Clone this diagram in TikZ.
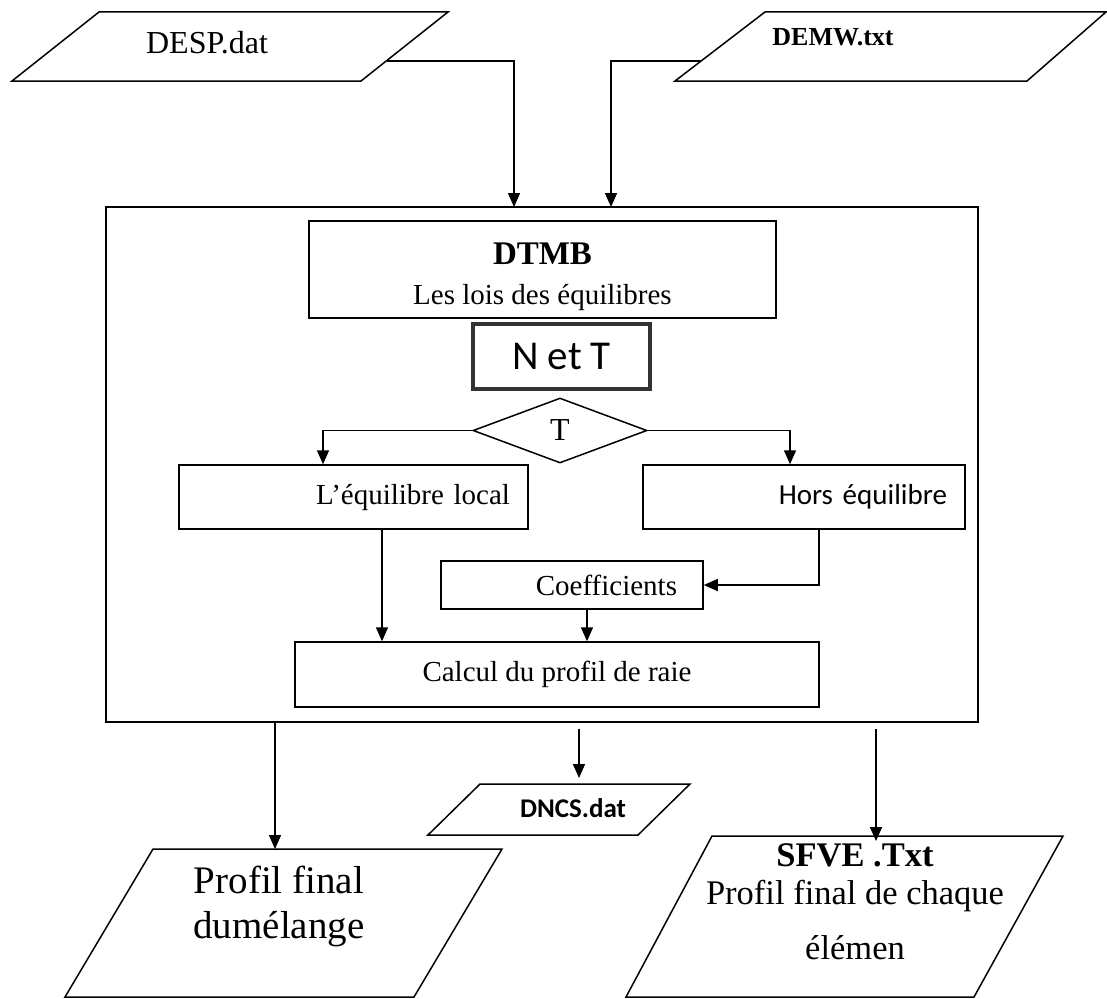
\documentclass[tikz,border=0pt]{standalone}
\usepackage{fontspec}
\setmainfont{Liberation Serif}
\newfontfamily\calibri{Carlito}
\usetikzlibrary{arrows.meta,positioning,shapes.geometric,calc}

\begin{document}
\begin{tikzpicture}[
    x=1pt, y=-1pt,
    >={Triangle[length=14pt,width=12pt]},
    line width=1.5pt,
    stage/.style={draw,inner sep=0pt,font=\fontsize{29}{34}\selectfont},
    rstage/.style={stage,align=right},
    choice/.style={draw,diamond,aspect=2.7,inner sep=0pt,minimum width=174pt,
                   minimum height=65pt,font=\fontsize{32}{36}\selectfont},
    filetext/.style={inner sep=0pt,align=center},
    flow/.style={->},
  ]
  \useasboundingbox (0,0) rectangle (1107,998);

  % --- input files ---
  \draw (99,12) -- (448,12) -- (361,81) -- (12,81) -- cycle;
  \node[filetext,font=\fontsize{32}{36}\selectfont] (desp) at (207,43) {DESP.dat};
  \draw (765,12) -- (1106,12) -- (1027,81) -- (675,81) -- cycle;
  \node[filetext,font=\bfseries\fontsize{26}{30}\selectfont] (demw) at (833,37) {DEMW.txt};
  \coordinate (despout) at (387,61);
  \coordinate (demwout) at (701,61);
  \coordinate (despin) at (514,207);
  \coordinate (demwin) at (611,207);

  % --- main block ---
  \node[draw,minimum width=872pt,minimum height=515pt,inner sep=0pt] (main) at (542,464.5) {};
  \node[stage,minimum width=467pt,minimum height=97pt,align=center] (dtmb) at (542.5,269.5)
    {\rule{0pt}{36pt}{\bfseries\fontsize{33}{41}\selectfont DTMB}\\[6pt]Les lois des équilibres};
  \node[draw=black!80,line width=4pt,minimum width=177pt,minimum height=65pt,inner sep=0pt,
        font=\calibri\fontsize{41}{46}\selectfont] (net) at (561.5,356.5) {N et T};
  \node[choice] (tdiam) at (560,430.5) {T};
  \node[rstage,text width=313pt,inner xsep=18pt,minimum height=64pt] (lte) at (353.5,497)
    {L’équilibre local};
  \node[rstage,text width=286pt,inner xsep=18pt,minimum height=64pt,
        font=\calibri\fontsize{29}{34}\selectfont] (nlte) at (804,497) {Hors équilibre};
  \node[rstage,text width=210pt,inner xsep=26pt,minimum height=48pt] (coef) at (572,585)
    {Coefficients};
  \node[stage,minimum width=524pt,minimum height=65pt] (calc) at (557,674.5)
    {Calcul du profil de raie};

  % --- output files ---
  \draw (480,784) -- (690,784) -- (638,835) -- (428,835) -- cycle;
  \node[filetext,font=\calibri\bfseries\fontsize{27}{30}\selectfont] (dncs) at (573,808) {DNCS.dat};
  \draw (153,849) -- (502,849) -- (414,997) -- (65,997) -- cycle;
  \node[filetext,font=\fontsize{39}{45}\selectfont] (melange) at (279,906)
    {Profil final\\dumélange};
  \draw (712,836) -- (1063,836) -- (974,997) -- (626,997) -- cycle;
  \node[filetext,font=\fontsize{34.5}{38}\selectfont] (sfve) at (855,902)
    {\textbf{SFVE .Txt}\\Profil final de chaque\\[17pt]élémen};
  \coordinate (melin) at (275,849);
  \coordinate (dncsin) at (579,778);
  \coordinate (sfvein) at (876,841);

  % --- connectors ---
  \draw[flow] (despout) -| (despin);
  \draw[flow] (demwout) -| (demwin);
  \draw[flow] (tdiam.west) -| ([xshift=-30.5pt]lte.north);
  \draw[flow] (tdiam.east) -| ([xshift=-14pt]nlte.north);
  \draw[flow] ([xshift=28.5pt]lte.south) -- ([xshift=28.5pt]lte.south |- calc.north);
  \draw[flow] ([xshift=15pt]nlte.south) |- (coef.east);
  \draw[flow] ([xshift=15pt]coef.south) -- ([xshift=15pt]coef.south |- calc.north);
  \draw[flow] (main.south -| melin) -- (melin);
  \draw[flow] ($(main.south -| dncsin)+(0,6)$) -- (dncsin);
  \draw[flow] ($(main.south -| sfvein)+(0,6)$) -- (sfvein);

\end{tikzpicture}
\end{document}
